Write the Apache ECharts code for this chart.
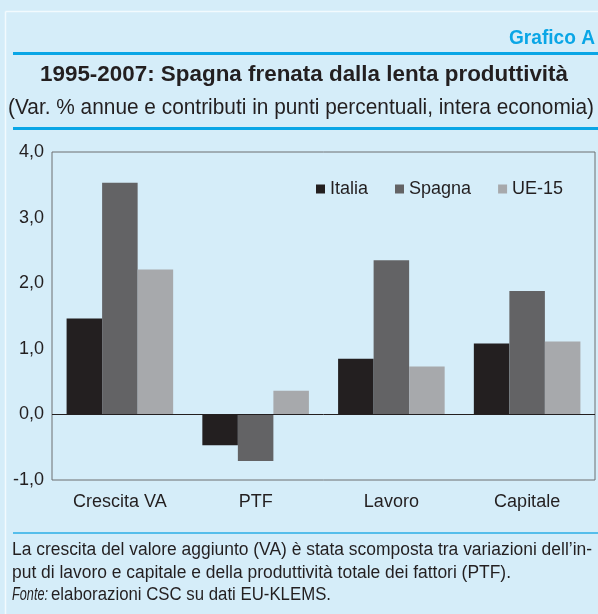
<!DOCTYPE html>
<html>
<head>
<meta charset="utf-8">
<script src="https://cdn.jsdelivr.net/npm/echarts@6/dist/echarts.min.js"></script>
<style>
  html, body { margin: 0; padding: 0; background: #d5edf9; }
  #chart { width: 598px; height: 614px; }
</style>
</head>
<body>
<div id="chart"></div>
<script>
// Categories and series values (annual % change and percentage-point contributions)
const categories = ['Crescita VA', 'PTF', 'Lavoro', 'Capitale'];
const italia = [1.46, -0.47, 0.85, 1.08];
const spagna = [3.53, -0.71, 2.35, 1.88];
const ue15 = [2.21, 0.36, 0.73, 1.11];
const yTicks = { min: -1, max: 4, interval: 1 };

const sans = '"Liberation Sans", Arial, sans-serif';
const textColor = '#231f20';
const frameColor = '#6d6e70';
const accent = '#0aa6e6';

// Condensed look: measure text in a regular face and squeeze it horizontally
const measureCtx = document.createElement('canvas').getContext('2d');
function textWidth(text, font) {
  measureCtx.font = font;
  return measureCtx.measureText(text).width;
}
function squeezed(text, font, x, y, targetWidth, align, scale) {
  const s = scale || targetWidth / textWidth(text, font);
  return {
    type: 'text', silent: true, x: x, y: y, scaleX: s,
    style: { text: text, fill: textColor, font: font, textAlign: align || 'left', textVerticalAlign: 'middle' }
  };
}

const titleFont = 'bold 22px ' + sans;
const subFont = '22px ' + sans;
const noteFont = '18px ' + sans;
const noteItalic = 'italic 18px ' + sans;
const tagFont = 'bold 20px ' + sans;

const note1 = 'La crescita del valore aggiunto (VA) è stata scomposta tra variazioni dell’in-';
const note2 = 'put di lavoro e capitale e della produttività totale dei fattori (PTF).';

const chart = echarts.init(document.getElementById('chart'), null, { renderer: 'canvas' });

function barSeries(name, data, color, extra) {
  return Object.assign({
    name: name,
    type: 'bar',
    data: data,
    barGap: '0%',
    barCategoryGap: '21.5%',
    itemStyle: { color: color },
    emphasis: { disabled: true }
  }, extra || {});
}

const tag = squeezed('Grafico A', tagFont, 595, 38, 86, 'right');
tag.style.fill = accent;

chart.setOption({
  backgroundColor: '#d5edf9',
  animation: false,
  textStyle: { fontFamily: sans },
  grid: {
    left: 52, top: 152, right: 3, bottom: 134,
    show: true, borderColor: frameColor, borderWidth: 1,
    backgroundColor: 'transparent'
  },
  legend: {
    left: 311, top: 175,
    icon: 'rect', itemWidth: 9, itemHeight: 9, itemGap: 27,
    textStyle: { fontSize: 18, color: textColor, fontFamily: sans },
    data: ['Italia', 'Spagna', 'UE-15'],
    selectedMode: false
  },
  xAxis: {
    type: 'category',
    data: categories,
    axisLine: { show: false, onZero: false },
    axisTick: { show: false },
    axisLabel: { margin: 13, fontSize: 18, color: textColor, fontFamily: sans }
  },
  yAxis: {
    type: 'value',
    min: yTicks.min, max: yTicks.max, interval: yTicks.interval,
    axisLine: { show: false },
    axisTick: { show: false },
    splitLine: { show: false },
    axisLabel: {
      margin: 8, fontSize: 18, color: textColor, fontFamily: sans,
      formatter: v => v.toFixed(1).replace('.', ',')
    }
  },
  series: [
    barSeries('Italia', italia, '#231f20', {
      markLine: {
        silent: true, symbol: 'none', animation: false,
        label: { show: false },
        lineStyle: { color: '#231f20', width: 1, type: 'solid' },
        data: [{ yAxis: 0 }]
      }
    }),
    barSeries('Spagna', spagna, '#636365'),
    barSeries('UE-15', ue15, '#a7a9ac')
  ],
  graphic: [
    // panel edge
    { type: 'line', silent: true, shape: { x1: 5.5, y1: 11.5, x2: 598, y2: 11.5 }, style: { stroke: '#f2fafe', lineWidth: 1.5 } },
    { type: 'line', silent: true, shape: { x1: 5.5, y1: 11.5, x2: 5.5, y2: 614 }, style: { stroke: '#f2fafe', lineWidth: 1.5 } },
    // header rules
    { type: 'line', silent: true, shape: { x1: 13, y1: 53.5, x2: 598, y2: 53.5 }, style: { stroke: accent, lineWidth: 3 } },
    { type: 'line', silent: true, shape: { x1: 13, y1: 128.5, x2: 598, y2: 128.5 }, style: { stroke: accent, lineWidth: 3 } },
    { type: 'line', silent: true, shape: { x1: 13, y1: 533, x2: 598, y2: 533 }, style: { stroke: '#2aaee6', lineWidth: 1.5 } },
    // header texts
    tag,
    squeezed('1995-2007: Spagna frenata dalla lenta produttività', titleFont, 40, 75, 528, 'left'),
    squeezed('(Var. % annue e contributi in punti percentuali, intera economia)', subFont, 8, 108, 586, 'left'),
    // footnote
    squeezed(note1, noteFont, 12, 550, 580, 'left'),
    squeezed(note2, noteFont, 12, 573, 499, 'left'),
    squeezed('Fonte:', noteItalic, 12, 595, 36, 'left'),
    squeezed('elaborazioni CSC su dati EU-KLEMS.', noteFont, 51, 595, 280, 'left')
  ]
});
</script>
</body>
</html>
